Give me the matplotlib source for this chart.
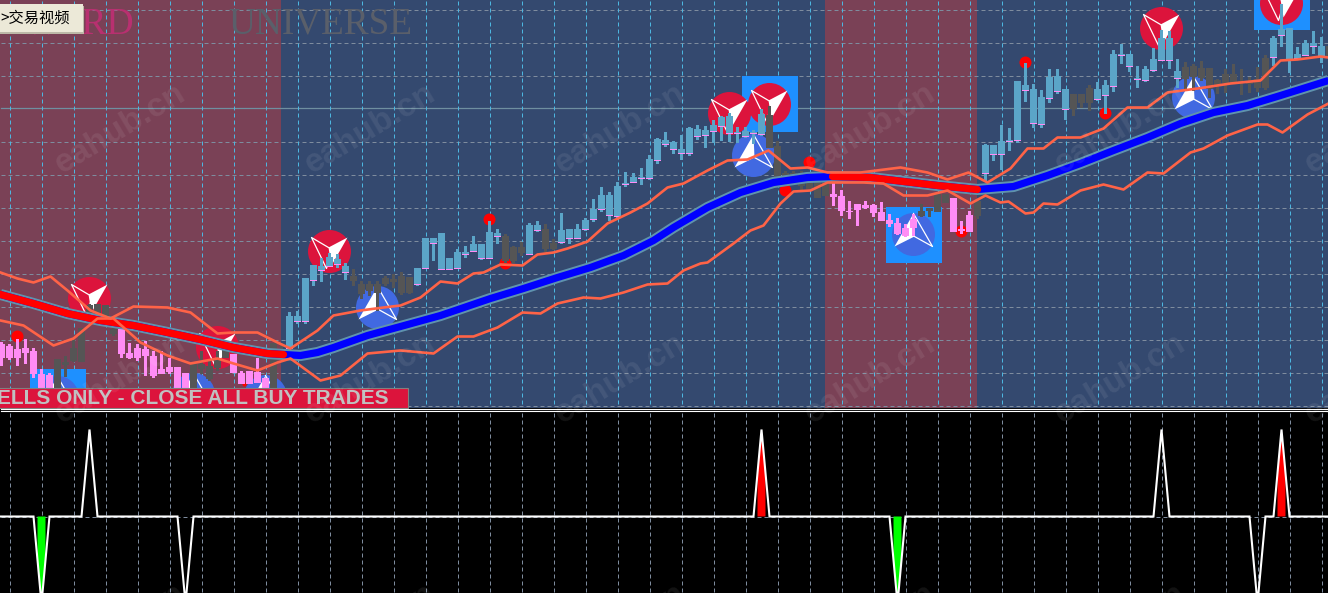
#!/usr/bin/env python3
"""Trading platform screenshot: candles, moving average, bands, signal panel."""
import numpy as np
import matplotlib
matplotlib.use("Agg")
import matplotlib.pyplot as plt
from matplotlib.patches import Circle, Polygon, Rectangle

W, H = 1328, 593
C_BLUE_BG = "#34496F"
C_RED_BG = "#7A4156"
C_UP = "#5BA5C8"
C_DOWN = "#FF8CF5"
C_FLAT = "#555555"
C_BAND = "#FF6347"
C_MA_EDGE = "#5F93AE"
C_GRID_V = "#4DB6E0"
C_GRID_H = "#7E8C9E"
C_CRIMSON = "#DC143C"
C_ROYAL = "#4169E1"
C_DODGER = "#1E90FF"

# panel zones (left, right)
red_zones = [(0, 281), (825, 977)]
grid_x = list(range(9, W, 32))
grid_y = [9, 42, 75, 141, 174, 207, 240, 273, 306, 339, 372, 405]

# candles, one every 8 px from x=1; u=up, d=down, f=flat; ten per row
kind = ["d","d","d","d","d","d","d","f","f","f",
        "f","f","f","f","f","d","d","d","d","d",
        "d","d","d","d","f","f","f","f","f","d",
        "d","d","d","d","f","f","u","u","u","u",
        "u","u","u","u","f","f","f","f","f","f",
        "f","f","u","u","u","u","u","u","u","u",
        "u","u","u","f","f","f","u","u","f","f",
        "u","u","u","u","u","u","u","u","u","u",
        "u","u","u","u","u","u","u","u","u","u",
        "u","u","u","u","u","u","f","f","f","f",
        "f","f","f","f","d","d","d","d","d","d",
        "d","d","d","d","d","f","f","f","f","d",
        "d","d","f","u","u","u","u","u","u","u",
        "u","u","u","u","f","f","f","u","u","u",
        "u","u","u","u","u","u","u","u","f","f",
        "f","f","f","f","f","f","f","f","f","u",
        "u","u","u","u","u","u","f"]
body_top = [343,345,348,347,350,373,374,358,361,347,
            327,304,303,304,328,328,352,347,348,355,
            368,366,366,372,363,363,365,357,348,353,
            372,370,371,377,342,348,315,315,277,264,
            265,256,258,265,275,283,283,283,277,278,
            275,276,267,237,237,232,257,251,251,243,
            243,231,232,235,246,246,224,224,228,242,
            229,228,228,219,208,194,194,185,182,176,
            176,158,138,139,141,148,127,128,129,124,
            116,115,131,130,131,113,114,145,172,172,
            172,178,180,180,193,195,210,203,204,204,
            211,219,222,227,218,210,207,193,193,197,
            228,214,200,144,144,140,139,80,84,88,
            96,76,75,88,93,93,87,88,84,53,
            53,53,77,68,58,37,37,70,66,65,
            67,67,79,73,73,80,81,78,57,37,
            28,27,53,42,42,45,45]
body_bot = [357,357,357,352,373,387,387,387,364,360,
            361,315,315,318,333,353,357,357,355,375,
            373,371,387,387,387,368,378,367,357,372,
            383,383,382,387,387,352,347,320,320,279,
            269,265,263,271,280,293,290,292,283,281,
            292,292,283,267,242,268,268,267,253,250,
            257,257,235,260,260,252,253,229,248,248,
            241,237,237,228,218,208,214,215,183,181,
            177,177,159,143,148,152,152,135,134,130,
            125,132,132,135,132,133,147,177,177,177,
            185,188,197,195,196,210,211,209,207,212,
            220,223,233,235,227,215,210,211,202,231,
            230,231,215,172,153,153,140,139,89,122,
            123,97,90,108,108,102,102,98,94,85,
            54,65,78,79,69,59,59,77,78,76,
            77,88,85,82,82,81,83,87,87,56,
            34,58,57,54,45,55,55]
wick_top = [341,343,338,338,347,368,372,358,355,337,
            327,303,303,304,326,328,342,343,340,350,
            350,357,366,372,363,350,360,350,348,353,
            370,370,357,377,342,345,311,310,277,264,
            257,252,253,262,268,280,280,280,275,273,
            271,276,267,237,237,232,257,248,245,235,
            243,220,228,233,245,241,222,220,223,238,
            212,228,223,217,198,186,191,181,171,172,
            167,154,137,131,140,134,126,124,125,119,
            115,112,126,126,129,108,105,140,170,170,
            170,175,178,178,182,189,200,203,200,203,
            201,213,217,223,213,203,207,193,193,197,
            220,210,200,143,144,124,127,80,62,83,
            89,68,68,88,93,93,84,81,79,49,
            43,53,65,65,47,29,30,58,61,63,
            60,67,78,68,63,68,76,66,54,35,
            3,27,46,39,30,36,36]
wick_bot = [365,359,365,363,377,387,387,387,376,361,
            361,318,318,320,335,357,358,360,375,377,
            373,373,387,387,387,373,380,370,357,372,
            383,383,382,387,387,355,350,323,323,285,
            281,265,267,279,285,298,295,310,285,287,
            294,293,285,268,260,268,268,268,257,251,
            259,258,243,262,262,255,254,231,251,249,
            243,243,238,230,221,211,220,217,186,182,
            184,179,163,146,153,159,155,139,147,142,
            140,141,142,137,143,135,147,177,180,180,
            190,188,197,195,205,215,218,225,208,216,
            220,226,234,236,235,216,216,211,202,231,
            233,231,218,180,160,169,150,142,101,127,
            127,102,93,119,115,107,110,100,113,91,
            63,71,87,81,71,60,68,87,88,90,
            80,97,93,92,83,94,92,91,89,65,
            46,72,58,55,53,62,62]

# moving average and bands
ma_x = [0,33,67,100,133,167,200,233,267,283,300,317,333,367,400,440,490,523,557,590,623,653,
        673,707,740,773,807,832,870,903,937,977,1013,1047,1080,1113,1147,1180,1213,1247,1280,1328]
ma_y = [294,303,313,320,325,332,339,347,353,354,355,352,347,335,326,315,298,288,277,267,255,240,
        227,207,192,182,177,176,177,181,185,189,186,175,163,150,137,123,112,105,95,80]
upper_x = [0,17,33,50,67,90,110,133,167,190,217,233,257,277,290,317,333,360,383,400,420,440,457,473,483,
           500,522,537,553,567,587,607,630,647,667,683,707,727,747,768,790,807,827,860,900,927,947,968,
           987,1010,1027,1043,1057,1080,1103,1127,1147,1167,1197,1230,1260,1280,1297,1320,1328]
upper_y = [272,278,282,276,290,310,318,306,307,312,333,332,332,342,348,330,315,310,307,305,297,281,283,273,272,
           264,265,254,252,248,241,223,212,203,187,183,170,160,159,150,168,167,172,172,167,172,179,172,
           182,168,148,148,137,137,128,107,107,92,88,83,80,60,59,56,57]
lower_x = [0,23,53,73,97,113,140,167,190,217,233,257,277,290,320,340,367,400,433,440,457,473,497,522,540,557,
           583,600,623,647,667,683,700,707,733,750,763,780,793,810,827,863,883,903,927,947,970,985,
           1000,1008,1025,1033,1043,1057,1080,1103,1123,1147,1163,1190,1203,1227,1257,1267,1282,1307,1328]
lower_y = [320,325,345,338,318,318,342,355,363,358,363,370,362,358,380,375,353,350,353,348,336,336,327,312,313,303,
           297,298,292,284,283,270,263,262,243,230,225,203,191,190,182,182,183,195,195,190,203,195,
           202,201,213,212,203,204,190,184,189,172,173,152,148,135,124,124,132,114,103]

# signal panel (lower window)
signal_x = [0,33,41,49,81,89,97,177,185,193,753,761,769,889,897,905,1153,1161,1169,1249,1257,1265,1273,1281,1289,1328]
signal_y = [516,516,603,516,516,429,516,516,603,516,516,429,516,516,603,516,516,429,516,516,603,516,516,429,516,516]
signal_fill_x = [41, 761, 897, 1281]
signal_fill_tip = [603, 429, 603, 429]
signal_fill_col = ["#00FF00", "#FF0000", "#00FF00", "#FF0000"]

# icons
sell_icon_x = [89, 217, 329, 729, 769, 1161, 1281]
sell_icon_y = [298, 347, 251, 113, 104, 28, 3]
buy_icon_x = [57, 193, 265, 377, 753, 913, 1193]
buy_icon_y = [397, 394, 396, 307, 155, 234, 97]
square_x = [29, 741, 885, 1253]
square_y = [368, 75, 206, -27]
dot_x = [17, 244, 489, 505, 785, 809, 961, 1025, 1105]
dot_y = [336, 384, 219, 263, 190, 162, 231, 62, 113]
dot_r = [6, 2, 6, 6, 6, 6, 6, 6, 6]

assert len(kind) == len(body_top) == len(body_bot) == len(wick_top) == len(wick_bot)

fig = plt.figure(figsize=(W / 100, H / 100), dpi=100, facecolor="black")
ax = fig.add_axes([0, 0, 1, 1])
ax.set_xlim(-0.5, W - 0.5)
ax.set_ylim(H - 0.5, -0.5)
ax.axis("off")

# Backgrounds
ax.add_patch(Rectangle((-1, -1), W + 2, 408, facecolor=C_BLUE_BG, edgecolor="none", zorder=0))
for x0, x1 in red_zones:
    ax.add_patch(Rectangle((x0 - 0.5, -1), x1 - x0, 408, facecolor=C_RED_BG, edgecolor="none", zorder=0.1))

# Grid
dash = (0, (4, 3))
for y in grid_y:
    ax.plot([0, W], [y, y], color=C_GRID_H, lw=0.72, ls=dash, zorder=1)
ax.plot([0, W], [107, 107], color="#6F8FA0", lw=0.9, zorder=1)
for x in grid_x:
    ax.plot([x, x], [0, 406], color=C_GRID_V, lw=0.72, ls=dash, zorder=1.1)

# Faded names
ax.text(134, 33, "WARD", family="Liberation Serif", fontsize=27, color="#B83070",
        ha="right", va="baseline", zorder=1.2)
ax.text(228, 33, "UNIVERSE", family="Liberation Serif", fontsize=26.8, color="#5A5F6A",
        ha="left", va="baseline", zorder=1.2)

# Icons
def draw_icon(cx, cy, col, fill_pts, line_pts):
    ax.add_patch(Circle((cx, cy), 21.5, facecolor=col, edgecolor="none", zorder=2.2))
    ax.add_patch(Polygon([(cx + a, cy + b) for a, b in fill_pts], closed=True,
                         facecolor="white", edgecolor="none", zorder=2.3))
    ax.plot([cx + a for a, b in line_pts], [cy + b for a, b in line_pts],
            color="white", lw=0.9, zorder=2.3)

for x, y in zip(square_x, square_y):
    ax.add_patch(Rectangle((x, y), 56, 56, facecolor=C_DODGER, edgecolor="none", zorder=2))
for x, y in zip(sell_icon_x, sell_icon_y):
    draw_icon(x, y, C_CRIMSON, [(18, -14), (-1, -4), (2, 14)], [(-1, -4), (-18, -14), (-3, 17), (2, 0)])
for x, y in zip(buy_icon_x, buy_icon_y):
    draw_icon(x, y, C_ROYAL, [(0, -21), (-19, 12), (1, 2)], [(0, -21), (19, 12), (1, 2)])
for x, y, r in zip(dot_x, dot_y, dot_r):
    ax.add_patch(Circle((x, y), r, facecolor="#FF0000", edgecolor="none", zorder=2.4))

# Lower window
ax.add_patch(Rectangle((-1, 407), W + 2, H - 405, facecolor="black", edgecolor="none", zorder=2.5))
ax.plot([0, W], [408, 408], color="white", lw=0.8, zorder=5.3)
ax.plot([0, W], [410, 410], color="white", lw=0.8, zorder=5.3)
ax.plot([0, W], [516, 516], color=C_GRID_H, lw=0.72, ls=dash, zorder=2.6)
for x in grid_x:
    ax.plot([x, x], [412, H], color=C_GRID_H, lw=0.72, ls=dash, zorder=2.6)
for x, tip, col in zip(signal_fill_x, signal_fill_tip, signal_fill_col):
    ax.add_patch(Polygon([(x - 4, 516), (x + 4, 516), (x + 4, (516 + tip) / 2), (x, tip), (x - 4, (516 + tip) / 2)],
                         closed=True, facecolor=col, edgecolor="none", zorder=2.7))
ax.plot(signal_x, signal_y, color="white", lw=1.5, zorder=2.8, solid_joinstyle="miter")

# Candles
for i, k in enumerate(kind):
    x = 1 + 8 * i
    col = {"u": C_UP, "d": C_DOWN, "f": C_FLAT}[k]
    ax.bar(x, wick_bot[i] - wick_top[i], bottom=wick_top[i], width=3, color=col, lw=0, zorder=3)
    ax.bar(x, max(body_bot[i] - body_top[i], 1.5), bottom=body_top[i], width=7, color=col, lw=0, zorder=3)
    if k == "u":
        ax.bar(x, 1.2, bottom=body_bot[i], width=7, color=C_DOWN, lw=0, zorder=3.1)

# Moving average, thick trend colours
ma_x_arr = np.array(ma_x, dtype=float)
ma_y_arr = np.array(ma_y, dtype=float)
ax.plot(ma_x_arr, ma_y_arr, color=C_MA_EDGE, lw=8.0, solid_capstyle="butt", zorder=4)
ax.plot(ma_x_arr, ma_y_arr, color="#0000FF", lw=5.2, solid_capstyle="butt", zorder=4.1)
for x0, x1 in [(0, 283), (832, 977)]:
    keep = (ma_x_arr >= x0) & (ma_x_arr <= x1)
    ax.plot(ma_x_arr[keep], ma_y_arr[keep], color="#FF0000", lw=5.2, solid_capstyle="round", zorder=4.2)

# Bands
ax.plot(upper_x, upper_y, color=C_BAND, lw=1.9, zorder=4.5)
ax.plot(lower_x, lower_y, color=C_BAND, lw=1.9, zorder=4.5)

# Banner
ax.add_patch(Rectangle((-2, 387), 409, 20, facecolor=C_CRIMSON, edgecolor="#808080", lw=0.8, zorder=5))
ax.text(388, 398, "ELLS ONLY - CLOSE ALL BUY TRADES", family="Liberation Sans", fontweight="bold",
        fontsize=15, color="#C0C0C0", ha="right", va="center", zorder=5.1)

# Watermarks
for wx in [120, 370, 620, 870, 1120, 1370]:
    for wy in [128, 378, 628]:
        ax.text(wx, wy, "eahub.cn", family="Liberation Sans", fontweight="bold", fontsize=24,
                color="white", alpha=0.08, rotation=31, ha="center", va="center", zorder=6,
                rotation_mode="anchor")

# Tooltip
ax.add_patch(Rectangle((-1, 5), 84, 28, facecolor="#BDB9A8", edgecolor="none", zorder=7))
ax.add_patch(Rectangle((-1, 3), 83, 28, facecolor="#ECE9D8", edgecolor="none", zorder=7.1))
ax.text(0, 18, ">交易视频", family=["Noto Sans CJK SC", "DejaVu Sans"], fontsize=11,
        color="black", ha="left", va="center", zorder=7.2)

fig.savefig("out.png", dpi=100, facecolor="black")
